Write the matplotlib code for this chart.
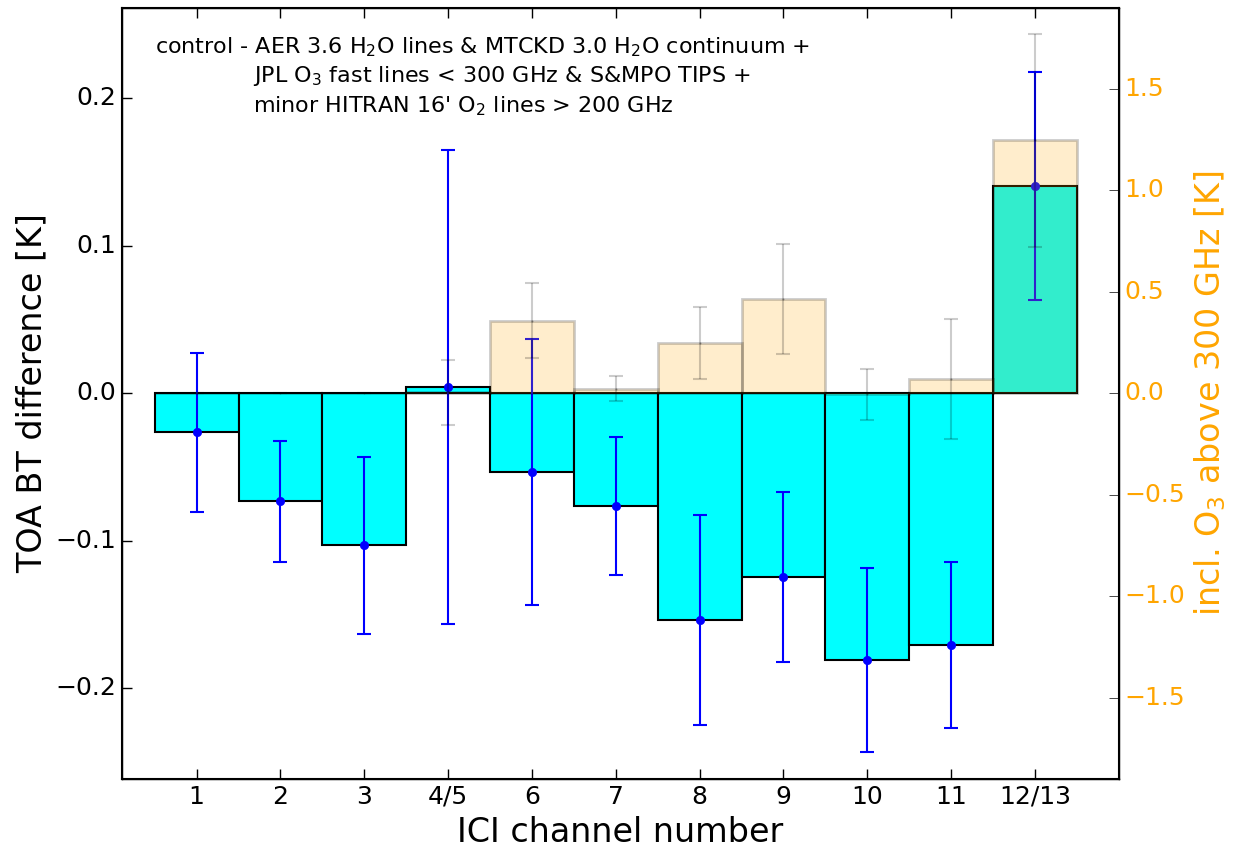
import numpy as np
import matplotlib
matplotlib.use('Agg')
from matplotlib import pyplot as plt

plt.style.use('classic')
plt.rcParams['mathtext.fontset'] = 'dejavusans'
plt.rcParams['mathtext.default'] = 'regular'

channels = ['1', '2', '3', '4/5', '6', '7', '8', '9', '10', '11', '12/13']

# control run minus reference, TOA brightness temperature [K]
dtb = [-0.0265, -0.073, -0.103, 0.0043, -0.0532, -0.0764, -0.1537,
       -0.1244, -0.1808, -0.1706, 0.1405]
dtb_err = [0.054, 0.041, 0.060, 0.161, 0.090, 0.047, 0.071,
           0.0577, 0.0624, 0.056, 0.0774]

# same, including O3 lines above 300 GHz [K]
dtb_o3 = [0.0, 0.0, 0.0, 0.005, 0.358, 0.023, 0.248, 0.466, -0.005,
          0.071, 1.246]
dtb_o3_err = [0.0, 0.0, 0.0, 0.16, 0.184, 0.062, 0.179, 0.272, 0.124,
              0.297, 0.524]

x = np.arange(1, len(channels) + 1)

fig = plt.figure(figsize=(12.5, 8.61), dpi=100, facecolor='w')
ax1 = fig.add_axes([0.0976, 0.0952, 0.7974, 0.8958])

ax1.bar(x, dtb, width=1.0, align='center', color='cyan',
        edgecolor='k', linewidth=1.5)
ax1.errorbar(x, dtb, yerr=dtb_err, fmt='o', color='b', ecolor='b',
             markersize=6, markeredgecolor='b', elinewidth=1.5,
             capsize=5, capthick=1.5)
ax1.set_xlim(0.11, 12.0)
ax1.set_ylim(-0.2615, 0.2615)
ax1.set_yticks([-0.2, -0.1, 0.0, 0.1, 0.2])
ax1.set_xticks(x)
ax1.set_xticklabels(channels)
ax1.tick_params(labelsize=18, length=7, width=1)
ax1.set_xlabel('ICI channel number', fontsize=24)
ax1.set_ylabel('TOA BT difference [K]', fontsize=24)
for sp in ax1.spines.values():
    sp.set_linewidth(1.5)

ax2 = ax1.twinx()
ax2.bar(x, dtb_o3, width=1.0, align='center', color='orange', alpha=0.2,
        edgecolor='k', linewidth=2)
ax2.errorbar(x, dtb_o3, yerr=dtb_o3_err, fmt='.', color='k', ecolor='k',
             markersize=2, alpha=0.2, elinewidth=1.5, capsize=5,
             capthick=1.5)
ax2.set_ylim(-1.9, 1.9)
ax2.set_yticks([-1.5, -1.0, -0.5, 0.0, 0.5, 1.0, 1.5])
ax2.tick_params(axis='y', labelsize=18, labelcolor='orange', length=7)
ax2.set_ylabel('incl. O$_3$ above 300 GHz [K]', fontsize=24,
               color='orange')
ax2.set_xlim(0.11, 12.0)

ax1.text(0.033, 0.949, 'control - AER 3.6 H$_2$O lines & MTCKD 3.0 H$_2$O continuum +',
         transform=ax1.transAxes, fontsize=16, va='center', ha='left')
ax1.text(0.1315, 0.911, 'JPL O$_3$ fast lines < 300 GHz & S&MPO TIPS +',
         transform=ax1.transAxes, fontsize=16, va='center', ha='left')
ax1.text(0.1315, 0.873, "minor HITRAN 16' O$_2$ lines > 200 GHz",
         transform=ax1.transAxes, fontsize=16, va='center', ha='left')

fig.savefig('out.png', dpi=100)
